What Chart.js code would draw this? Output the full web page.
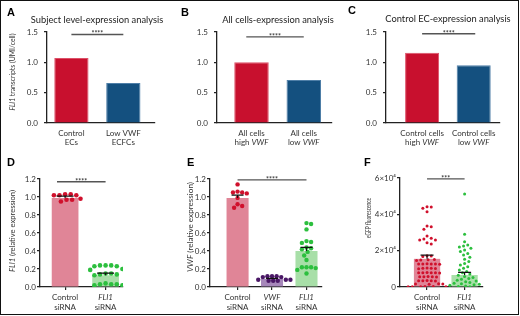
<!DOCTYPE html>
<html lang="en">
<head>
<meta charset="UTF-8">
<title>FLI1 and VWF expression</title>
<style>
  body { margin: 0; background: #fff; }
  #fig { position: relative; width: 520px; height: 316px; overflow: hidden; }
  #frame { position: absolute; left: 0; top: 0; width: 519px; height: 315px; box-sizing: border-box; border: 1.5px solid #111; }
  canvas { position: absolute; }
</style>
</head>
<body>
<div id="fig">
  <div id="frame"></div>
  <canvas id="panelA" width="170" height="150" style="left:0;top:0"></canvas>
  <canvas id="panelB" width="170" height="150" style="left:170px;top:0"></canvas>
  <canvas id="panelC" width="180" height="150" style="left:340px;top:0"></canvas>
  <canvas id="panelD" width="170" height="166" style="left:0;top:150px"></canvas>
  <canvas id="panelE" width="170" height="166" style="left:170px;top:150px"></canvas>
  <canvas id="panelF" width="180" height="166" style="left:340px;top:150px"></canvas>
</div>
<script src="https://cdn.jsdelivr.net/npm/chart.js"></script>
<script>
// ---- top row: FLI1 transcripts (UMI/cell) ----
const catsA = [['Control', 'ECs'], ['Low VWF', 'ECFCs']];
const fli1A = [1.07, 0.66];
const catsB = [['All cells', 'high *VWF*'], ['All cells', 'low *VWF*']];
const fli1B = [1.00, 0.71];
const catsC = [['Control cells', 'high *VWF*'], ['Control cells', 'low *VWF*']];
const fli1C = [1.16, 0.95];
const ticksTop = [0, 0.5, 1.0, 1.5];
const tickLabelsTop = ['0.0', '0.5', '1.0', '1.5'];

// ---- D: FLI1 relative expression ----
const catsD = [['Control', 'siRNA'], ['*FLI1*', 'siRNA']];
const meanD = [0.99, 0.13];
const semD = [0.02, 0.025];
const ctrlD = [1.03, 1.02, 1.02, 1.02, 1.03, 0.98, 0.97, 0.97, 0.95];
const fli1D = [0.24, 0.23, 0.24, 0.23, 0.24, 0.20, 0.19, 0.15, 0.14, 0.14, 0.13, 0.15,
               0.03, 0.02, 0.03, 0.02, 0.03, 0.04];

// ---- E: VWF relative expression ----
const catsE = [['Control', 'siRNA'], ['*VWF*', 'siRNA'], ['*FLI1*', 'siRNA']];
const meanE = [0.99, 0.09, 0.40];
const semE = [0.03, 0.005, 0.04];
const ctrlE = [1.14, 1.04, 1.06, 1.05, 1.05, 0.99, 0.88, 0.92, 0.90];
const vwfE = [0.12, 0.12, 0.11, 0.12, 0.11, 0.08, 0.07, 0.08, 0.07, 0.08, 0.07];
const fli1E = [0.71, 0.70, 0.64, 0.51, 0.50, 0.49, 0.44, 0.43, 0.42, 0.39, 0.35, 0.30,
               0.22, 0.22, 0.21, 0.19, 0.15, 0.22];
const ticksBottom = [0, 0.2, 0.4, 0.6, 0.8, 1.0, 1.2];
const tickLabelsBottom = ['0.0', '0.2', '0.4', '0.6', '0.8', '1.0', '1.2'];

// ---- F: eGFP fluorescence ----
const catsF = [['Control', 'siRNA'], ['*FLI1*', 'siRNA']];
const meanF = [15500, 6600];
const semF = [2100, 1400];
const ctrlF = [44200, 44000, 43300, 41400, 33600, 33200, 31800, 28100, 26800, 26400, 25900, 25900,
               24400, 23700,
               17000, 17200, 16800, 15000, 14800, 14600, 15100,
               12700, 12600, 12800, 12500, 12700, 12600, 10300, 10200, 10400, 10100, 10300,
               7900, 7800, 8000, 7700, 7900, 7800, 5700, 5600, 5800, 5500, 5700,
               3500, 3400, 3600, 3300, 3500, 1700, 1600, 1800, 1500,
               200, 100, 300, 150, 250, 100];
const fli1F = [51200, 29000, 24900, 23100, 22600, 22000, 21300, 20400, 19500, 18500, 17600, 16400,
               15300, 14000, 12900, 12100, 11200, 10300, 9400, 8600, 7800, 7100, 6400, 5800,
               5200, 4700, 4200, 3700, 3300, 2900, 2500, 2100, 1800, 1500, 1200, 900, 600, 300, 100];
const ticksF = [0, 20000, 40000, 60000];
const tickLabelsF = ['0', '2×10⁴', '4×10⁴', '6×10⁴'];

const FONT = 'Lato, "Open Sans", sans-serif';

// simple beeswarm: spread points sideways (in pixels) so they don't overlap
function swarm(values, center, pxX, pxY, gap) {
    const placed = [];
    return values.slice().sort((a, b) => b - a).map(v => {
        const py = v * pxY;
        let k = 0, off = 0;
        while (true) {
            off = k === 0 ? 0 : (k % 2 ? 1 : -1) * Math.ceil(k / 2) * gap / 4;
            if (!placed.some(p => Math.hypot(p.x - off, p.y - py) < gap * 0.98)) break;
            k++;
        }
        placed.push({ x: off, y: py });
        return { x: center + off / pxX, y: v };
    });
}

// text with *italic* parts
function fontOf(k, size, weight) {
    return (k % 2 ? 'italic ' : '') + (weight || '') + ' ' + size + 'px ' + FONT;
}
function richWidth(ctx, str, size) {
    let w = 0;
    str.split('*').forEach((p, k) => { ctx.font = fontOf(k, size); w += ctx.measureText(p).width; });
    return w;
}
function richText(ctx, str, x, y, size, color, align) {
    const w = richWidth(ctx, str, size);
    let cx = align === 'center' ? x - w / 2 : align === 'right' ? x - w : x;
    ctx.fillStyle = color;
    ctx.textAlign = 'left';
    ctx.textBaseline = 'middle';
    str.split('*').forEach((p, k) => {
        ctx.font = fontOf(k, size);
        ctx.fillText(p, cx, y);
        cx += ctx.measureText(p).width;
    });
}

const decor = {
    id: 'decor',
    afterDatasetsDraw(chart, args, o) {
        const ctx = chart.ctx, xs = chart.scales.x, ys = chart.scales.y, area = chart.chartArea;
        ctx.save();
        // error bars (mean + SEM)
        if (o.sem) {
            ctx.strokeStyle = '#111';
            ctx.lineWidth = 1.2;
            o.sem.forEach((s, i) => {
                const px = xs.getPixelForValue(i);
                const y0 = ys.getPixelForValue(o.means[i]);
                const y1 = ys.getPixelForValue(o.means[i] + s);
                ctx.beginPath();
                ctx.moveTo(px, y0); ctx.lineTo(px, y1);
                ctx.moveTo(px - o.capW / 2, y1); ctx.lineTo(px + o.capW / 2, y1);
                ctx.stroke();
            });
        }
        // significance bar
        const sx0 = xs.getPixelForValue(o.sig[0]), sx1 = xs.getPixelForValue(o.sig[1]);
        const sy = ys.getPixelForValue(o.sig[2]);
        ctx.strokeStyle = '#555';
        ctx.lineWidth = 1.4;
        ctx.beginPath(); ctx.moveTo(sx0, sy); ctx.lineTo(sx1, sy); ctx.stroke();
        ctx.fillStyle = '#333';
        ctx.font = 'bold 7px ' + FONT;
        ctx.textAlign = 'center';
        ctx.textBaseline = 'alphabetic';
        ctx.fillText(o.sig[3], (sx0 + sx1) / 2, sy + 2);
        // category labels
        o.cats.forEach((lines, i) => {
            const px = xs.getPixelForValue(i);
            lines.forEach((t, j) => richText(ctx, t, px, area.bottom + 10 + j * o.lineH, 8, '#333', 'center'));
        });
        // y axis title, squeezed or stretched to its length in the figure
        if (o.yTitle) {
            ctx.save();
            ctx.translate(o.yTitleAt[0], o.yTitleAt[1]);
            ctx.rotate(-Math.PI / 2);
            ctx.scale(o.yTitleAt[2] / richWidth(ctx, o.yTitle, 7.5), 1);
            richText(ctx, o.yTitle, 0, 0, 7.5, '#333', 'center');
            ctx.restore();
        }
        // panel title and letter
        if (o.title) richText(ctx, o.title, o.titleAt[0], o.titleAt[1], 9.3, '#222', 'center');
        ctx.font = 'bold 11px "Liberation Sans", Arial, sans-serif';
        ctx.fillStyle = '#000';
        ctx.textAlign = 'left';
        ctx.textBaseline = 'middle';
        ctx.fillText(o.letter, o.letterAt[0], o.letterAt[1]);
        ctx.restore();
    }
};

function panel(id, p) {
    const canvas = document.getElementById(id);
    const areaW = canvas.width - p.pad[0] - p.yW - p.pad[2];
    const areaH = canvas.height - p.pad[1] - p.xH - p.pad[3];
    const pxX = areaW / (p.xRange[1] - p.xRange[0]);
    const pxY = areaH / p.yTicks[p.yTicks.length - 1];
    const datasets = [{
        type: 'bar',
        data: p.means.map((v, i) => ({ x: i, y: v })),
        backgroundColor: p.barColors,
        borderColor: p.barEdges || p.barColors,
        borderWidth: p.barEdges ? 1 : 0,
        categoryPercentage: 1,
        barPercentage: p.barFrac,
        order: 3
    }];
    (p.dots || []).forEach((vals, i) => datasets.push({
        type: 'scatter',
        data: swarm(vals, i, pxX, pxY, p.dotGap),
        pointRadius: p.dotR,
        pointBackgroundColor: p.dotColors[i],
        pointBorderWidth: 0,
        order: 1
    }));
    new Chart(canvas, {
        type: 'bar',
        data: { datasets: datasets },
        options: {
            responsive: false,
            animation: false,
            events: [],
            layout: { padding: { left: p.pad[0], top: p.pad[1], right: p.pad[2], bottom: p.pad[3] } },
            plugins: {
                legend: { display: false },
                tooltip: { enabled: false },
                decor: {
                    cats: p.cats, means: p.means, sem: p.sem, capW: p.capW, sig: p.sig,
                    yTitle: p.yTitle, yTitleAt: p.yTitleAt, title: p.title, titleAt: p.titleAt,
                    letter: p.letter, letterAt: p.letterAt, lineH: p.lineH
                }
            },
            scales: {
                x: {
                    type: 'linear',
                    offset: false,
                    bounds: 'data',
                    min: p.xRange[0],
                    max: p.xRange[1],
                    afterFit: s => { s.height = p.xH; },
                    afterBuildTicks: s => { s.ticks = p.cats.map((c, i) => ({ value: i })); },
                    ticks: { display: false },
                    grid: { offset: false, drawOnChartArea: false, drawTicks: p.xTicks, tickLength: 3, color: '#222', lineWidth: 1.2 },
                    border: { color: '#222', width: 1.3 }
                },
                y: {
                    min: 0,
                    max: p.yTicks[p.yTicks.length - 1],
                    afterFit: s => { s.width = p.yW; },
                    afterBuildTicks: s => { s.ticks = p.yTicks.map(v => ({ value: v })); },
                    ticks: {
                        callback: (v, i) => p.yLabels[i],
                        font: { family: FONT, size: 8 },
                        color: '#333',
                        padding: p.yPad
                    },
                    grid: { drawOnChartArea: false, tickLength: 3, color: '#222', lineWidth: 1.2 },
                    border: { color: '#222', width: 1.3 }
                }
            }
        },
        plugins: [decor]
    });
}

const red = '#c8102e', blue = '#14507f';
const topCommon = { yW: 30, xH: 20, yTicks: ticksTop, yLabels: tickLabelsTop, yPad: 6, barFrac: 0.66,
                    barColors: [red, blue], barEdges: ['#dd5068', '#4f7fa8'], xTicks: false, lineH: 9 };

panel('panelA', Object.assign({}, topCommon, {
    pad: [17, 32, 15, 7], xRange: [-0.47, 1.61], cats: catsA, means: fli1A,
    sig: [0, 1, 1.46, '****'], yTitle: '*FLI1* transcripts (UMI/cell)', yTitleAt: [13, 72, 77],
    title: 'Subject level-expression analysis', titleAt: [97, 20], letter: 'A', letterAt: [7, 13]
}));
panel('panelB', Object.assign({}, topCommon, {
    pad: [17, 32, 8, 7], xRange: [-0.66, 1.54], cats: catsB, means: fli1B,
    sig: [-0.1, 1, 1.42, '****'], yTitle: '',
    title: 'All cells-expression analysis', titleAt: [108, 20], letter: 'B', letterAt: [11, 13]
}));
panel('panelC', Object.assign({}, topCommon, {
    pad: [16, 32, 20, 7], xRange: [-0.70, 1.51], cats: catsC, means: fli1C,
    sig: [0, 1.03, 1.47, '****'], yTitle: '',
    title: 'Control EC-expression analysis', titleAt: [108, 19], letter: 'C', letterAt: [8, 11]
}));

const botCommon = { yW: 30, xH: 20, yPad: 1, xTicks: true, lineH: 10, dotR: 2.3, dotGap: 5.6 };

panel('panelD', Object.assign({}, botCommon, {
    pad: [10, 29, 47, 9], xRange: [-0.62, 1.43], yTicks: ticksBottom, yLabels: tickLabelsBottom,
    cats: catsD, means: meanD, sem: semD, capW: 17, barFrac: 0.66,
    barColors: ['#e08597', '#a8dfa8'], dots: [ctrlD, fli1D], dotColors: ['#d0102c', '#2cbf3e'],
    sig: [-0.2, 1, 1.17, '****'], yTitle: '*FLI1* (relative expression)', yTitleAt: [13, 81, 82],
    letter: 'D', letterAt: [7, 13]
}));
panel('panelE', Object.assign({}, botCommon, {
    pad: [10, 29, 18, 9], xRange: [-0.80, 2.45], yTicks: ticksBottom, yLabels: tickLabelsBottom,
    cats: catsE, means: meanE, sem: semE, capW: 12, barFrac: 0.64, dotR: 2.2, dotGap: 4.6,
    barColors: ['#e08597', '#a687ba', '#a8dfa8'], dots: [ctrlE, vwfE, fli1E],
    dotColors: ['#d0102c', '#4a1766', '#2cbf3e'],
    sig: [0, 2, 1.19, '****'], yTitle: '*VWF* (relative expression)', yTitleAt: [21, 77, 90],
    letter: 'E', letterAt: [17, 13]
}));
panel('panelF', Object.assign({}, botCommon, {
    pad: [20, 28, 37, 9], yW: 40, xRange: [-0.72, 1.49], yTicks: ticksF, yLabels: tickLabelsF,
    cats: catsF, means: meanF, sem: semF, capW: 13, barFrac: 0.7, dotR: 1.5, dotGap: 4.2,
    barColors: ['#e08597', '#a8dfa8'], dots: [ctrlF, fli1F], dotColors: ['#d0102c', '#2cbf3e'],
    sig: [0, 1, 59500, '***'], yTitle: 'eGFP fluorescence', yTitleAt: [29, 68, 40],
    letter: 'F', letterAt: [24, 13]
}));
</script>
</body>
</html>
